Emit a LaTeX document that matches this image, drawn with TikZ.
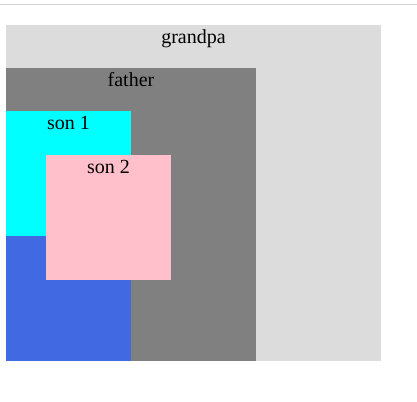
\documentclass[tikz,border=0pt]{standalone}
\usepackage{fontspec}
\setmainfont{Liberation Serif}
\definecolor{gainsboro}{HTML}{DCDCDC}
\definecolor{fathergray}{HTML}{808080}
\definecolor{soncyan}{HTML}{00FFFF}
\definecolor{sonblue}{HTML}{4169E1}
\definecolor{sonpink}{HTML}{FFC0CB}
\definecolor{topline}{HTML}{D4D4D4}
\begin{document}
\begin{tikzpicture}[x=0.75pt,y=-0.75pt,
  box/.style={draw=none,inner sep=0pt,outer sep=0pt,anchor=north west},
  lbl/.style={inner sep=0pt,outer sep=0pt,anchor=base,font=\fontsize{15pt}{17pt}\selectfont}]
\useasboundingbox (0,0) rectangle (417,401);
\fill[white] (0,0) rectangle (417,401);
\coordinate (tl) at (0,4.5);
\coordinate (tr) at (417,4.5);
\draw[topline,line width=1.2pt] (tl) -- (tr);
\node[box,fill=gainsboro,minimum width=375*0.75pt,minimum height=336*0.75pt] (grandpa) at (6,25) {};
\node[box,fill=fathergray,minimum width=250*0.75pt,minimum height=293*0.75pt] (father) at (6,68) {};
\node[box,fill=soncyan,minimum width=125*0.75pt,minimum height=125*0.75pt] (son1) at (6,111) {};
\node[box,fill=sonblue,minimum width=125*0.75pt,minimum height=125*0.75pt] (son1b) at (6,236) {};
\node[box,fill=sonpink,minimum width=125*0.75pt,minimum height=125*0.75pt] (son2) at (46,155) {};
\node[lbl] (tg) at (193.5,43.5) {grandpa};
\node[lbl] (tf) at (131,86.5) {father};
\node[lbl] (ts1) at (68.5,129.5) {son 1};
\node[lbl] (ts2) at (108.5,173.5) {son 2};
\end{tikzpicture}
\end{document}
